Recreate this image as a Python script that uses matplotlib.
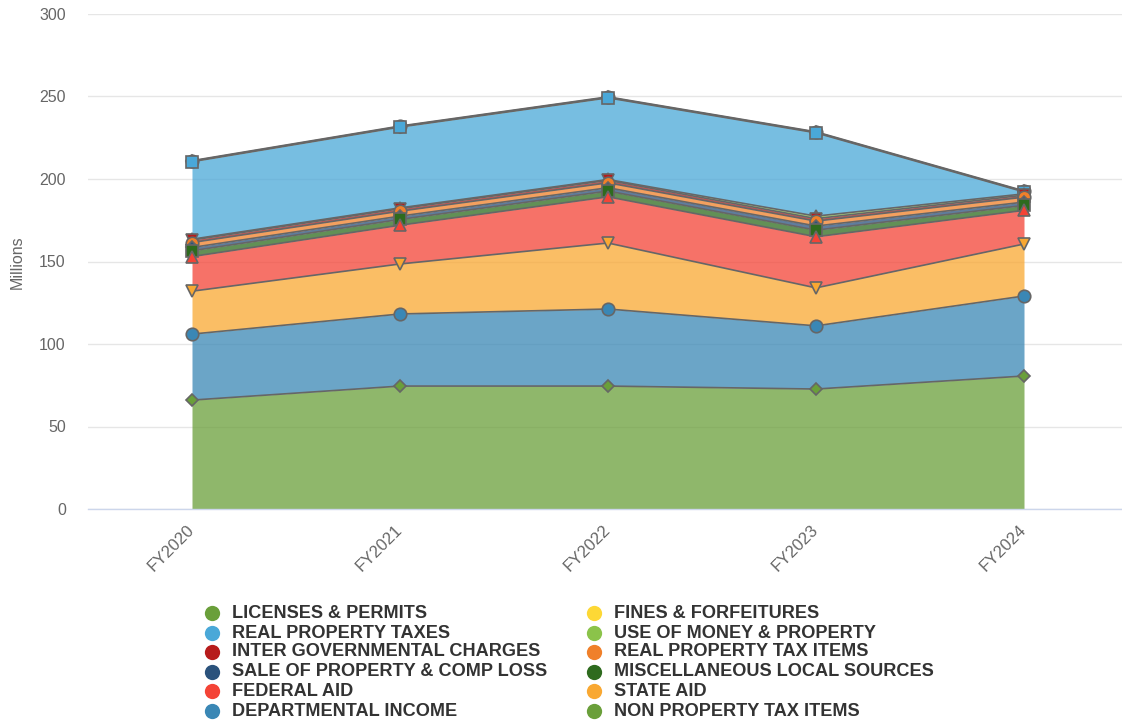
import matplotlib
matplotlib.use("Agg")
import matplotlib.pyplot as plt
import numpy as np
from matplotlib.lines import Line2D

plt.rcParams["font.family"] = ["Liberation Sans", "DejaVu Sans"]

years = ["FY2020", "FY2021", "FY2022", "FY2023", "FY2024"]

# Revenue by source, in millions; listed from the top of the stack down
licenses_permits = [0.3, 0.3, 0.3, 0.3, 0.3]
fines_forfeitures = [0.3, 0.3, 0.3, 0.3, 0.3]
real_property_taxes = [47.0, 49.0, 49.5, 50.5, 1.2]
use_of_money_property = [0.5, 0.5, 0.5, 1.5, 0.8]
inter_governmental_charges = [1.5, 1.5, 1.5, 1.5, 1.2]
real_property_tax_items = [3.0, 3.0, 3.0, 3.0, 3.0]
sale_of_property = [2.0, 2.0, 2.0, 2.5, 2.0]
misc_local_sources = [3.5, 3.5, 3.5, 4.0, 3.0]
federal_aid = [21.0, 23.5, 28.0, 31.0, 20.4]
state_aid = [26.0, 30.3, 40.0, 23.0, 31.5]
departmental_income = [40.0, 43.7, 46.7, 38.3, 48.5]
non_property_tax_items = [66.0, 74.5, 74.5, 72.7, 80.6]

series = [
    ("LICENSES & PERMITS", licenses_permits, "#6a9f3a", "o"),
    ("FINES & FORFEITURES", fines_forfeitures, "#fdd835", "D"),
    ("REAL PROPERTY TAXES", real_property_taxes, "#4aa8d8", "s"),
    ("USE OF MONEY & PROPERTY", use_of_money_property, "#8bc34a", "^"),
    ("INTER GOVERNMENTAL CHARGES", inter_governmental_charges, "#b71c1c", "v"),
    ("REAL PROPERTY TAX ITEMS", real_property_tax_items, "#f0802a", "o"),
    ("SALE OF PROPERTY & COMP LOSS", sale_of_property, "#2b527c", "D"),
    ("MISCELLANEOUS LOCAL SOURCES", misc_local_sources, "#2e6b1e", "s"),
    ("FEDERAL AID", federal_aid, "#f44336", "^"),
    ("STATE AID", state_aid, "#f9a832", "v"),
    ("DEPARTMENTAL INCOME", departmental_income, "#3a87b5", "o"),
    ("NON PROPERTY TAX ITEMS", non_property_tax_items, "#6a9f3a", "D"),
]

W, H = 1122, 724
fig = plt.figure(figsize=(W / 100, H / 100), dpi=100)
left_px, right_px, top_px, bottom_px = 88, 1122, 14, 509
ax = fig.add_axes([left_px / W, 1 - bottom_px / H,
                   (right_px - left_px) / W, (bottom_px - top_px) / H])

x = np.arange(len(years))

# cumulative stack, bottom series first
vals = np.array([s[1] for s in series], dtype=float)
n = len(series)
bottoms = np.zeros_like(vals)
acc = np.zeros(len(years))
for i in range(n - 1, -1, -1):
    bottoms[i] = acc
    acc = acc + vals[i]
tops = bottoms + vals

line_c = "#666666"
for i, (name, v, color, mk) in enumerate(series):
    z = 2 + i * 0.1
    ax.fill_between(x, bottoms[i], tops[i], color=color, alpha=0.75,
                    linewidth=0, zorder=z)
for i, (name, v, color, mk) in enumerate(series):
    z = 3 + i * 0.1
    ax.plot(x, tops[i], color=line_c, linewidth=1.2, zorder=z)
for i, (name, v, color, mk) in enumerate(series):
    z = 5 + i * 0.1
    ms = 6.4 if mk == "D" else 9
    ax.plot(x, tops[i], linestyle="none", marker=mk, markersize=ms,
            markerfacecolor=color, markeredgecolor=line_c,
            markeredgewidth=1.2, zorder=z)

ax.set_xlim(-0.5, (right_px - 192) / 208)
ax.set_ylim(0, 300)
ax.set_yticks(np.arange(0, 301, 50))
ax.set_xticks(x)
ax.set_xticklabels(years, rotation=45, ha="right", va="center",
                   rotation_mode="anchor")
ax.tick_params(axis="x", length=0, pad=13, labelsize=12, colors="#666666")
ax.tick_params(axis="y", length=0, pad=16, labelsize=11.5, colors="#666666")
for lbl in ax.get_xticklabels():
    lbl.set_x(lbl.get_position()[0])
ax.grid(axis="y", color="#e6e6e6", linewidth=1)
ax.set_axisbelow(True)
for side in ("top", "right", "left"):
    ax.spines[side].set_visible(False)
ax.spines["bottom"].set_color("#ccd6eb")
ax.spines["bottom"].set_linewidth(1)
ax.spines["bottom"].set_zorder(10)

fig.text(17 / W, 1 - 262 / H, "Millions", rotation=90, ha="center",
         va="center", fontsize=11.5, color="#666666")

# two-column legend
order_left = [0, 2, 4, 6, 8, 10]
order_right = [1, 3, 5, 7, 9, 11]
rows_y = [613, 633, 652, 672, 691, 711]
for col_x, idxs in ((212, order_left), (594, order_right)):
    for row, i in enumerate(idxs):
        name, v, color, mk = series[i]
        yf = 1 - rows_y[row] / H
        fig.add_artist(Line2D([col_x / W], [yf], marker="o", markersize=11,
                              markerfacecolor=color, markeredgewidth=0,
                              linestyle="none", transform=fig.transFigure))
        fig.text((col_x + 20) / W, yf, name, ha="left", va="center",
                 fontsize=13.1, fontweight="bold", color="#333333")

fig.savefig("out.png", dpi=100, facecolor="white")
